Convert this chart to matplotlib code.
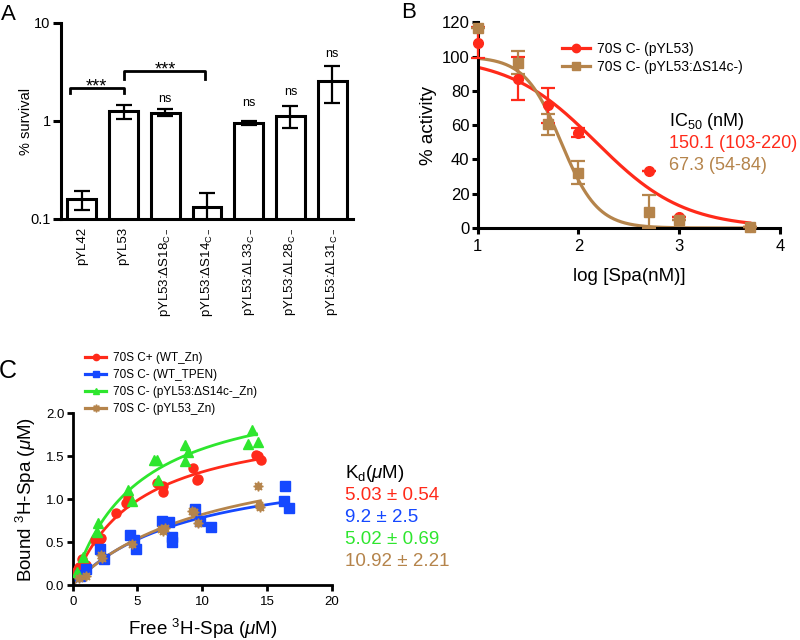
import numpy as np
import matplotlib
matplotlib.use("Agg")
import matplotlib.pyplot as plt
from matplotlib.lines import Line2D

plt.rcParams['font.family'] = ['Liberation Sans', 'DejaVu Sans']
plt.rcParams['mathtext.fontset'] = 'custom'
plt.rcParams['mathtext.rm'] = 'Liberation Sans'
plt.rcParams['mathtext.it'] = 'Liberation Sans:italic'
plt.rcParams['mathtext.bf'] = 'Liberation Sans:bold'

# ---------------- Panel A data ----------------
a_labels = ["pYL42", "pYL53", "pYL53:ΔS18$_{\\mathrm{C-}}$", "pYL53:ΔS14$_{\\mathrm{C-}}$",
            "pYL53:ΔL33$_{\\mathrm{C-}}$", "pYL53:ΔL28$_{\\mathrm{C-}}$", "pYL53:ΔL31$_{\\mathrm{C-}}$"]
a_values = [0.16, 1.26, 1.22, 0.134, 0.95, 1.13, 2.58]
a_errors = [0.035, 0.20, 0.10, 0.05, 0.05, 0.28, 1.07]
a_ns = ["", "", "ns", "", "ns", "ns", "ns"]
a_ns_y = [0, 0, 1.67, 0, 1.53, 1.98, 4.8]

# ---------------- Panel B data ----------------
b_conc_nM = [10, 25, 50, 100, 500, 1000, 5000]
b_red = [108, 87, 71.5, 55.6, 33.2, 6.2, 0.8]
b_red_err = [9, 12.5, 10, 2.5, 0, 0, 0]
b_brown = [116.8, 96.4, 60.4, 32.3, 9.5, 4.7, 0.8]
b_brown_err = [0, 6.7, 6, 6.5, 9.5, 0, 0]
b_ic50 = [150.1, 67.3]
b_hill = [1.0, 2.4]
b_names = ["70S C- (pYL53)", "70S C- (pYL53:ΔS14c-)"]
b_ic50_text = ["150.1 (103-220)", "67.3 (54-84)"]

# ---------------- Panel C data ----------------
c_red_x = [0.30, 0.41, 0.50, 0.72, 1.05, 1.75, 2.08, 2.20, 3.37, 4.14, 4.27, 6.53, 6.97, 6.97,
           9.31, 9.57, 9.70, 14.15, 14.34, 14.54]
c_red_y = [0.16, 0.19, 0.21, 0.30, 0.23, 0.52, 0.54, 0.55, 0.84, 0.95, 1.01, 1.19, 1.15, 1.08,
           1.36, 1.22, 1.24, 1.52, 1.50, 1.46]
c_blue_x = [0.54, 0.60, 1.05, 2.08, 2.42, 4.40, 4.73, 4.91, 6.90, 7.44, 7.67, 7.70, 9.44, 9.83,
            10.66, 16.34, 16.39, 16.68]
c_blue_y = [0.10, 0.12, 0.19, 0.42, 0.30, 0.58, 0.52, 0.42, 0.74, 0.73, 0.56, 0.50, 0.89, 0.74,
            0.68, 0.98, 1.15, 0.90]
c_green_x = [0.35, 0.80, 1.90, 1.95, 4.27, 4.58, 6.28, 6.50, 6.56, 8.65, 8.70, 8.93, 13.56, 13.82, 14.28]
c_green_y = [0.15, 0.33, 0.62, 0.72, 1.11, 0.98, 1.46, 1.46, 1.22, 1.63, 1.44, 1.55, 1.64, 1.81, 1.67]
c_brown_x = [0.50, 1.05, 2.21, 2.30, 4.60, 6.80, 6.97, 7.10, 9.20, 9.37, 9.70, 14.33, 14.40, 14.50]
c_brown_y = [0.08, 0.10, 0.35, 0.32, 0.48, 0.65, 0.63, 0.66, 0.86, 0.85, 0.72, 1.15, 0.93, 0.91]
c_kd = [5.03, 9.2, 5.02, 10.92]
c_bmax = [1.98, 1.51, 2.38, 1.72]
c_xmax = [14.6, 16.5, 14.2, 14.5]
c_names = ["70S C+ (WT_Zn)", "70S C- (WT_TPEN)", "70S C- (pYL53:ΔS14c-_Zn)", "70S C- (pYL53_Zn)"]
c_kd_text = ["5.03 ± 0.54", "9.2 ± 2.5", "5.02 ± 0.69", "10.92 ± 2.21"]

RED = '#FF2A1A'
BROWN = '#B5844B'
BLUE = '#1548FF'
GREEN = '#2EE62E'
STAR8 = (8, 1, 0)

fig = plt.figure(figsize=(8, 6.4), dpi=100)

def style_axes(ax, lw=2.0):
    for s in ['top', 'right']:
        ax.spines[s].set_visible(False)
    for s in ['left', 'bottom']:
        ax.spines[s].set_linewidth(lw)
    ax.tick_params(width=lw, length=4.5, direction='out', colors='black')

# ================= Panel A =================
wA = (353-61)/800
axA = fig.add_axes([61/800, 1-219/640, wA, (219-23)/640])
xa = np.arange(len(a_values))
axA.bar(xa, a_values, width=0.69, bottom=0, color='white', edgecolor='black', linewidth=2.2, zorder=2)
axA.errorbar(xa, a_values, yerr=a_errors, fmt='none', ecolor='black', elinewidth=1.6,
             capsize=6, capthick=1.6, zorder=3)
axA.set_yscale('log')
axA.set_ylim(0.1, 10)
axA.set_xlim(-0.5, 6.5)
axA.set_yticks([0.1, 1, 10])
axA.set_yticklabels(['0.1', '1', '10'])
axA.yaxis.set_minor_locator(matplotlib.ticker.NullLocator())
axA.set_xticks(xa)
axA.set_xticklabels(a_labels, rotation=90, fontsize=9.5)
style_axes(axA, 2.2)
axA.tick_params(axis='x', length=0, pad=6)
axA.tick_params(axis='y', labelsize=10.5, length=5.5, pad=2)
axA.set_ylabel('% survival', fontsize=10.5)
axA.yaxis.set_label_coords((33-61)/292, 0.5)
for i, t in enumerate(a_ns):
    if t:
        axA.text(xa[i], a_ns_y[i], t, ha='center', va='center', fontsize=9)
# significance brackets
axA.plot([-0.29, -0.29, 1.0, 1.0], [1.93, 2.19, 2.19, 1.93], color='black', lw=2.0)
axA.text(0.35, 2.0, '***', ha='center', va='baseline', fontsize=13)
axA.plot([1.0, 1.0, 2.95, 2.95], [2.68, 3.23, 3.23, 2.68], color='black', lw=2.0)
axA.text(2.0, 3.0, '***', ha='center', va='baseline', fontsize=13)

# ================= Panel B =================
wB = (780-477.7)/800
axB = fig.add_axes([477.7/800, 1-228/640, wB, (228-22.3)/640])
xb = np.log10(b_conc_nM)
xfit = np.linspace(1, 3.7, 300)
series_b = [(b_red, b_red_err, RED, 'o'), (b_brown, b_brown_err, BROWN, 's')]
for k, (yv, ye, col, mk) in enumerate(series_b):
    yfit = 100 / (1 + 10 ** ((xfit - np.log10(b_ic50[k])) * b_hill[k]))
    axB.plot(xfit, yfit, color=col, lw=2.3, zorder=2)
    axB.errorbar(xb, yv, yerr=ye, fmt=mk, color=col, ms=7, elinewidth=1.6, capsize=5,
                 capthick=1.6, zorder=3, clip_on=False)
axB.set_xlim(1, 4)
axB.set_ylim(0, 120)
axB.set_xticks([1, 2, 3, 4])
axB.set_yticks(range(0, 121, 20))
style_axes(axB, 2.2)
axB.tick_params(labelsize=12, length=4.5)
axB.tick_params(axis='y', pad=1.5)
axB.set_xlabel('log [Spa(nM)]', fontsize=13.5, labelpad=10)
axB.set_ylabel('% activity', fontsize=13.5)
axB.yaxis.set_label_coords((437-477.7)/302.3, 0.5)
hB = [Line2D([0], [0], color=RED, lw=2.3, marker='o', ms=6),
      Line2D([0], [0], color=BROWN, lw=2.3, marker='s', ms=6)]
axB.legend(hB, b_names, loc='upper left', bbox_to_anchor=(562/800, 1-42/640),
           bbox_transform=fig.transFigure, frameon=False, fontsize=10, handlelength=2.0,
           handletextpad=0.5, labelspacing=0.28, borderpad=0, borderaxespad=0)
fig.text(669/800, 1-122/640, 'IC$_{50}$ (nM)', fontsize=13, va='center', ha='left')
fig.text(669/800, 1-143/640, b_ic50_text[0], fontsize=13, va='center', ha='left', color=RED)
fig.text(669/800, 1-165/640, b_ic50_text[1], fontsize=13, va='center', ha='left', color=BROWN)

# ================= Panel C =================
wC = (331.7-72.7)/800
axC = fig.add_axes([72.7/800, 1-585/640, wC, (585-413.3)/640])
series_c = [(c_red_x, c_red_y, RED, 'o', 6.5), (c_blue_x, c_blue_y, BLUE, 's', 6.5),
            (c_green_x, c_green_y, GREEN, '^', 7.5), (c_brown_x, c_brown_y, BROWN, STAR8, 7)]
for k, (xv, yv, col, mk, ms) in enumerate(series_c):
    xf = np.linspace(0, c_xmax[k], 200)
    axC.plot(xf, c_bmax[k] * xf / (c_kd[k] + xf), color=col, lw=2.0, zorder=2)
    axC.plot(xv, yv, linestyle='none', marker=mk, color=col, ms=ms, zorder=3)
axC.set_xlim(0, 20)
axC.set_ylim(0, 2.0)
axC.set_xticks([0, 5, 10, 15, 20])
axC.set_yticks([0, 0.5, 1.0, 1.5, 2.0])
axC.set_yticklabels(['0.0', '0.5', '1.0', '1.5', '2.0'])
style_axes(axC, 2.0)
axC.tick_params(labelsize=9.5, length=4.5)
axC.tick_params(axis='y', pad=1.5)
axC.set_xlabel('Free $^{3}$H-Spa ($\\mu$M)', fontsize=13.5, labelpad=6)
axC.set_ylabel('Bound $^{3}$H-Spa ($\\mu$M)', fontsize=13.5)
axC.yaxis.set_label_coords((38-72.7)/259, 0.5)
hC = [Line2D([0], [0], color=RED, lw=2.3, marker='o', ms=4.5),
      Line2D([0], [0], color=BLUE, lw=2.3, marker='s', ms=4.5),
      Line2D([0], [0], color=GREEN, lw=2.3, marker='^', ms=5),
      Line2D([0], [0], color=BROWN, lw=2.3, marker=STAR8, ms=5.5)]
axC.legend(hC, c_names, loc='upper left', bbox_to_anchor=(85/800, 1-352/640),
           bbox_transform=fig.transFigure, frameon=False, fontsize=8.5, handlelength=1.8,
           handletextpad=0.6, labelspacing=0.42, borderpad=0, borderaxespad=0)
fig.text(345/800, 1-473/640, 'K$_{\\mathrm{d}}$($\\mu$M)', fontsize=13.5, va='center', ha='left')
for k, col in enumerate([RED, BLUE, GREEN, BROWN]):
    fig.text(345/800, 1-(495 + 22.3*k)/640, c_kd_text[k], fontsize=13.5, va='center',
             ha='left', color=col)

# panel letters
fig.text(8/800, 1-14/640, 'A', fontsize=16, ha='center', va='center')
fig.text(409/800, 1-12/640, 'B', fontsize=16, ha='center', va='center')
fig.text(8/800, 1-371/640, 'C', fontsize=18, ha='center', va='center')

fig.savefig('out.png', dpi=100)
